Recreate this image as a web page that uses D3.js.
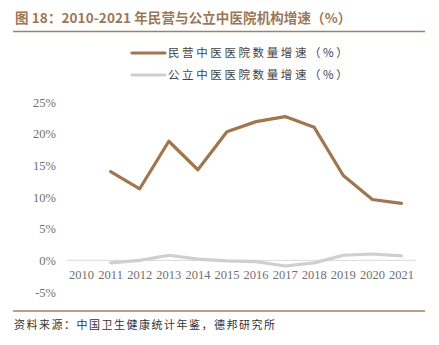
<!DOCTYPE html>
<html><head><meta charset="utf-8">
<script src="https://cdn.jsdelivr.net/npm/d3@7"></script>
<style>body{margin:0;background:#fff}svg{display:block}</style>
</head><body>
<svg id="c" width="439" height="345"></svg>
<script>
const years = ["2010","2011","2012","2013","2014","2015","2016","2017","2018","2019","2020","2021"];
const privateGrowth = [null,14.0,11.3,18.8,14.3,20.3,21.9,22.7,21.0,13.4,9.6,9.0];
const publicGrowth = [null,-0.4,0.0,0.8,0.2,-0.1,-0.2,-0.9,-0.4,0.8,1.0,0.7];
const yTicks = [-5,0,5,10,15,20,25];
const seriesNames = ["民营中医医院数量增速（%）","公立中医医院数量增速（%）"];
const colors = ["#a0764f","#cfcfcf"];
const titleText = "图 18：2010-2021 年民营与公立中医院机构增速（%）";
const sourceText = "资料来源：中国卫生健康统计年鉴，德邦研究所";

const svg = d3.select("#c");
const brown = "#a58060";
svg.append("text").attr("x",15).attr("y",23).attr("fill","#9c7756")
  .attr("font-family","Noto Sans CJK SC").attr("font-weight","bold").attr("font-size",13.5)
  .attr("letter-spacing",0.1).text(titleText);
svg.append("line").attr("x1",13).attr("x2",425).attr("y1",31.5).attr("y2",31.5)
  .attr("stroke",brown).attr("stroke-width",1.5);
svg.append("line").attr("x1",13).attr("x2",425).attr("y1",311).attr("y2",311)
  .attr("stroke",brown).attr("stroke-width",1.5);
svg.append("text").attr("x",14).attr("y",329).attr("fill","#333")
  .attr("font-family","Noto Sans CJK SC").attr("font-size",11).attr("letter-spacing",1.5)
  .text(sourceText);

const x = d3.scaleBand().domain(years).range([67,416]);
const y = d3.scaleLinear().domain([-5,25]).range([292,102]);

svg.append("line").attr("x1",67).attr("x2",416).attr("y1",y(0)).attr("y2",y(0))
  .attr("stroke","#d9d9d9").attr("stroke-width",1);

const yAxis = d3.axisLeft(y).tickValues(yTicks).tickSize(0).tickPadding(0).tickFormat(d=>d+"%");
const gy = svg.append("g").attr("transform","translate(56,0)").call(yAxis);
gy.select(".domain").remove();
gy.selectAll("text").attr("font-family","Liberation Serif").attr("font-size",12.5).attr("fill","#6f6f6f");

const xAxis = d3.axisBottom(x).tickSize(0).tickPadding(0);
const gx = svg.append("g").attr("transform","translate(0,270)").call(xAxis);
gx.select(".domain").remove();
gx.selectAll("text").attr("font-family","Liberation Serif").attr("font-size",12.5).attr("fill","#6f6f6f");

const line = d3.line().defined(d=>d.v!==null).x(d=>x(d.yr)+x.bandwidth()/2).y(d=>y(d.v));
[publicGrowth, privateGrowth].forEach((arr,i)=>{
  const data = years.map((yr,j)=>({yr,v:arr[j]}));
  svg.append("path").datum(data).attr("d",line).attr("fill","none")
    .attr("stroke", i===0?colors[1]:colors[0]).attr("stroke-width",3.2)
    .attr("stroke-linejoin","round").attr("stroke-linecap","round");
});

seriesNames.forEach((n,i)=>{
  const yy = 53 + i*22;
  svg.append("line").attr("x1",132).attr("x2",165).attr("y1",yy).attr("y2",yy)
    .attr("stroke",colors[i]).attr("stroke-width",3.2).attr("stroke-linecap","round");
  svg.append("text").attr("x",168).attr("y",yy+4).attr("fill","#444")
    .attr("font-family","Noto Sans CJK SC").attr("font-size",11.5).attr("letter-spacing",2.6)
    .text(n);
});
</script>
</body></html>
